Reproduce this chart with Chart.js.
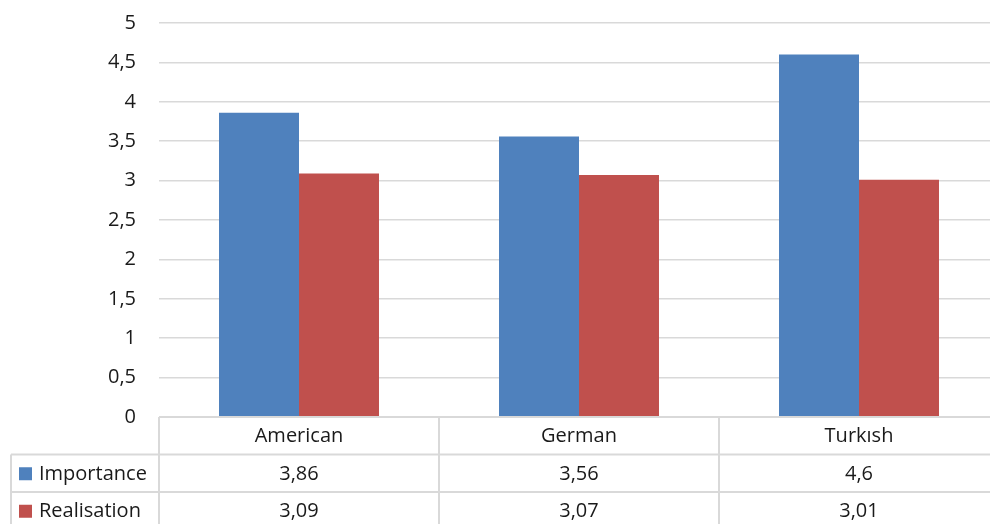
<!DOCTYPE html>
<html lang="en">
<head>
    <meta charset="UTF-8">
    <title>Importance vs Realisation</title>
    <style>
        html, body {
            margin: 0;
            padding: 0;
            background: #fff;
            overflow: hidden;
        }

        .chart-box {
            width: 1000px;
            height: 524px;
        }
    </style>
</head>
<body>
    <div class="chart-box">
        <canvas id="groupChart"></canvas>
    </div>

    <script src="https://cdn.jsdelivr.net/npm/chart.js"></script>
    <script>
        const categories = ['American', 'German', 'Turkısh'];
        const importance = [3.86, 3.56, 4.6];
        const realisation = [3.09, 3.07, 3.01];
        const yTicks = [0, 0.5, 1, 1.5, 2, 2.5, 3, 3.5, 4, 4.5, 5];

        const BLUE = '#4F81BD';
        const RED = '#C0504D';
        const LINE = '#d9d9d9';
        const TEXT = '#1a1a1a';
        const FONT = '"Open Sans", sans-serif';
        const FONT_SIZE = 20;

        const fmt = v => String(v).replace('.', ',');

        // data table under the plot: category row plus one row per series
        const dataTable = {
            id: 'dataTable',
            afterDraw(chart) {
                const ctx = chart.ctx;
                const area = chart.chartArea;
                const colW = (area.right - area.left) / categories.length;
                const rowH = 37.5;
                const top = area.bottom;
                const legendLeft = 11;
                const rows = [
                    { name: 'Importance', color: BLUE, values: importance },
                    { name: 'Realisation', color: RED, values: realisation }
                ];

                ctx.save();
                ctx.strokeStyle = LINE;
                ctx.lineWidth = 2;
                ctx.beginPath();
                // top border of the category row
                ctx.moveTo(area.left, top);
                ctx.lineTo(area.right, top);
                // row separators
                for (let r = 1; r <= rows.length; r++) {
                    ctx.moveTo(legendLeft, top + rowH * r);
                    ctx.lineTo(area.right, top + rowH * r);
                }
                // column separators
                const bottom = top + rowH * (rows.length + 1);
                ctx.moveTo(legendLeft, top + rowH);
                ctx.lineTo(legendLeft, bottom);
                for (let c = 0; c <= categories.length; c++) {
                    const x = area.left + colW * c;
                    ctx.moveTo(x, top);
                    ctx.lineTo(x, bottom);
                }
                ctx.stroke();

                ctx.fillStyle = TEXT;
                ctx.font = FONT_SIZE + 'px ' + FONT;
                ctx.textAlign = 'center';
                ctx.textBaseline = 'middle';
                categories.forEach((cat, i) => {
                    const cx = chart.scales.x.getPixelForValue(i);
                    ctx.fillText(cat, cx, top + rowH / 2 + 1);
                });

                rows.forEach((row, r) => {
                    const cy = top + rowH * (r + 1) + rowH / 2 + 1;
                    ctx.fillStyle = row.color;
                    ctx.fillRect(19, cy - 7, 13, 13);
                    ctx.fillStyle = TEXT;
                    ctx.textAlign = 'left';
                    ctx.fillText(row.name, 39, cy);
                    ctx.textAlign = 'center';
                    row.values.forEach((v, i) => {
                        ctx.fillText(fmt(v), chart.scales.x.getPixelForValue(i), cy);
                    });
                });
                ctx.restore();
            }
        };

        new Chart(document.getElementById('groupChart'), {
            type: 'bar',
            data: {
                labels: categories,
                datasets: [
                    {
                        label: 'Importance',
                        data: importance,
                        backgroundColor: BLUE,
                        categoryPercentage: 0.5714,
                        barPercentage: 1
                    },
                    {
                        label: 'Realisation',
                        data: realisation,
                        backgroundColor: RED,
                        categoryPercentage: 0.5714,
                        barPercentage: 1
                    }
                ]
            },
            options: {
                responsive: true,
                maintainAspectRatio: false,
                animation: false,
                layout: {
                    padding: { top: 23, right: 1, bottom: 107, left: 0 }
                },
                scales: {
                    x: {
                        display: false
                    },
                    y: {
                        min: 0,
                        max: 5,
                        afterBuildTicks: scale => {
                            scale.ticks = yTicks.map(v => ({ value: v }));
                        },
                        afterFit: scale => {
                            scale.width = 159;
                            scale.paddingTop = 0;
                            scale.paddingBottom = 0;
                        },
                        border: { display: false },
                        grid: {
                            color: LINE,
                            lineWidth: 1.5,
                            drawTicks: false
                        },
                        ticks: {
                            padding: 23,
                            color: TEXT,
                            font: { family: FONT, size: FONT_SIZE },
                            callback: v => fmt(v)
                        }
                    }
                },
                plugins: {
                    legend: { display: false },
                    tooltip: { enabled: false }
                }
            },
            plugins: [dataTable]
        });
    </script>
</body>
</html>
